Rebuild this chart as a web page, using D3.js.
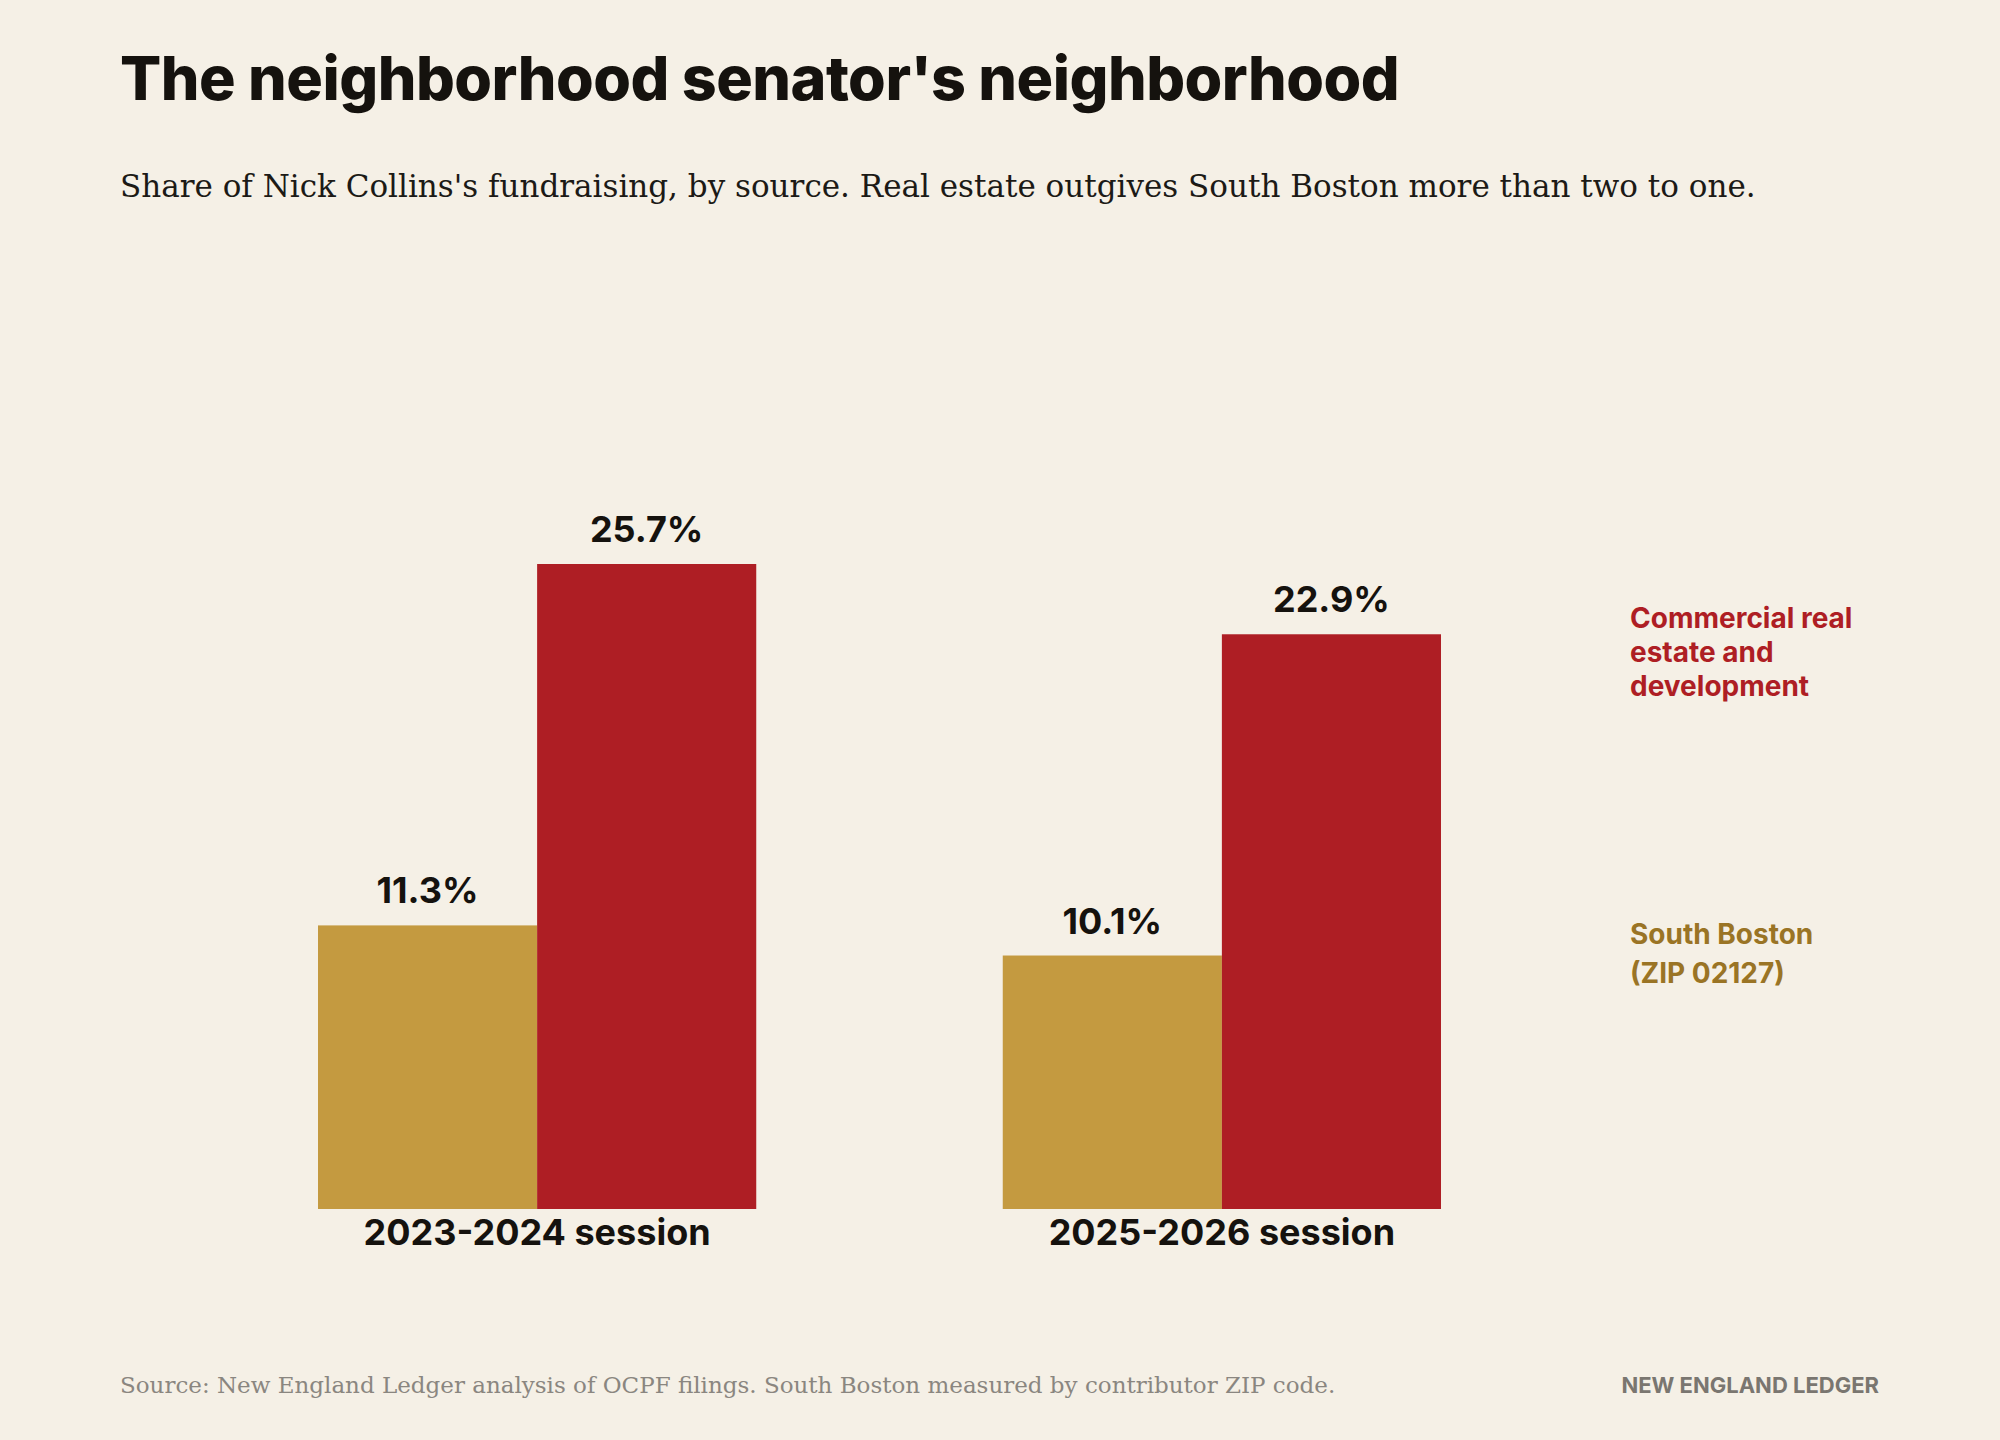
<!doctype html>
<html>
<meta charset="UTF-8">
<head>
<script src="https://cdn.jsdelivr.net/npm/d3@7"></script>
<style>
  body { margin:0; background:#f5f0e6; }
  .sans { font-family: Inter, 'Open Sans', sans-serif; }
  .serif { font-family: 'DejaVu Serif', 'Liberation Serif', serif; }
</style>
</head>
<body>
<script>
var sessions = ["2023-2024 session", "2025-2026 session"];
var series = ["South Boston (ZIP 02127)", "Commercial real estate and development"];
var southBoston = [11.3, 10.1];
var realEstate = [25.7, 22.9];
var colors = ["#c49a40", "#ae1e24"];
var legendColors = ["#9a7425", "#ae1e24"];

var W = 2000, H = 1440;
var svg = d3.select("body").append("svg").attr("width", W).attr("height", H);
svg.append("rect").attr("width", W).attr("height", H).attr("fill", "#f5f0e6");

svg.append("text").attr("class", "sans").attr("x", 120).attr("y", 100)
  .attr("font-size", 61).attr("font-weight", 800).attr("fill", "#15120e")
  .attr("letter-spacing", -0.5)
  .text("The neighborhood senator's neighborhood");

svg.append("text").attr("class", "serif").attr("x", 120).attr("y", 197)
  .attr("font-size", 31).attr("fill", "#1c1a16")
  .text("Share of Nick Collins's fundraising, by source. Real estate outgives South Boston more than two to one.");

var x = d3.scaleBand().domain(sessions).range([318, 1441]).paddingInner(0.36).paddingOuter(0);
var xi = d3.scaleBand().domain(series).range([0, x.bandwidth()]);
var y = d3.scaleLinear().domain([0, 25.7]).range([1209, 564]);

var rows = [];
sessions.forEach(function(s, i) {
  rows.push({s: s, k: series[0], v: southBoston[i], c: colors[0]});
  rows.push({s: s, k: series[1], v: realEstate[i], c: colors[1]});
});

svg.selectAll("rect.bar").data(rows).enter().append("rect")
  .attr("class", "bar")
  .attr("x", function(d) { return x(d.s) + xi(d.k); })
  .attr("y", function(d) { return y(d.v); })
  .attr("width", xi.bandwidth())
  .attr("height", function(d) { return y(0) - y(d.v); })
  .attr("fill", function(d) { return d.c; });

svg.selectAll("text.val").data(rows).enter().append("text")
  .attr("class", "sans val")
  .attr("x", function(d) { return x(d.s) + xi(d.k) + xi.bandwidth() / 2; })
  .attr("y", function(d) { return y(d.v) - 22; })
  .attr("text-anchor", "middle").attr("font-size", 36).attr("font-weight", 700)
  .attr("fill", "#15120e")
  .text(function(d) { return d.v.toFixed(1) + "%"; });

svg.selectAll("text.cat").data(sessions).enter().append("text")
  .attr("class", "sans cat")
  .attr("x", function(d) { return x(d) + x.bandwidth() / 2; })
  .attr("y", 1245)
  .attr("text-anchor", "middle").attr("font-size", 36).attr("font-weight", 700)
  .attr("fill", "#15120e")
  .text(function(d) { return d; });

// legend labels next to the last group
var legend = [
  {lines: ["Commercial real", "estate and", "development"], y0: 628, lh: 34, c: legendColors[1]},
  {lines: ["South Boston", "(ZIP 02127)"], y0: 944, lh: 39, c: legendColors[0]}
];
legend.forEach(function(l) {
  var t = svg.append("text").attr("class", "sans").attr("x", 1630)
    .attr("font-size", 28).attr("font-weight", 700).attr("fill", l.c);
  l.lines.forEach(function(line, i) {
    t.append("tspan").attr("x", 1630).attr("y", l.y0 + i * l.lh).text(line);
  });
});

svg.append("text").attr("class", "serif").attr("x", 120).attr("y", 1393)
  .attr("font-size", 23).attr("fill", "#8a8680")
  .text("Source: New England Ledger analysis of OCPF filings. South Boston measured by contributor ZIP code.");
svg.append("text").attr("class", "sans").attr("x", 1879).attr("y", 1393)
  .attr("text-anchor", "end").attr("font-size", 22).attr("font-weight", 700)
  .attr("fill", "#7a7670").text("NEW ENGLAND LEDGER");
</script>
</body>
</html>
